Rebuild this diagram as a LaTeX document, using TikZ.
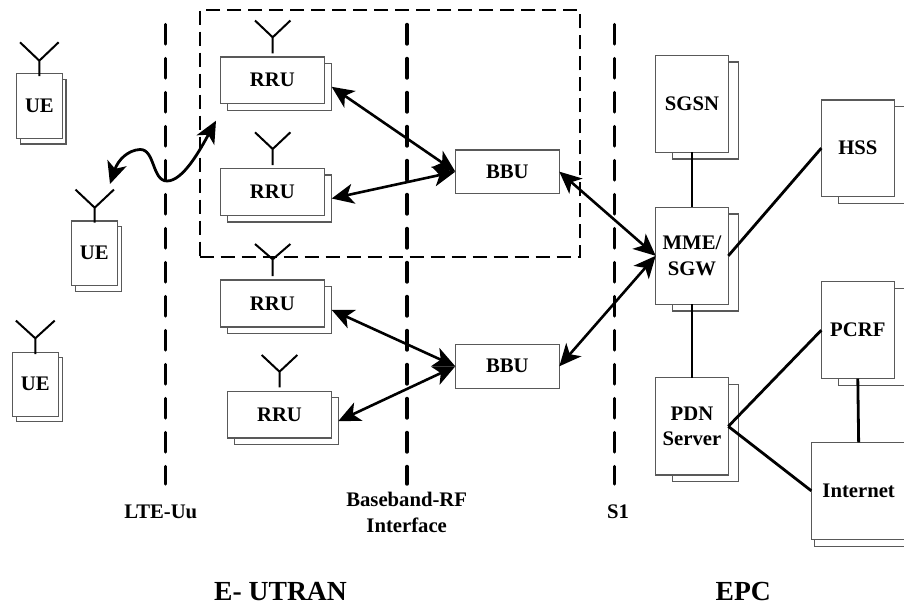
\documentclass[tikz,border=0pt]{standalone}
\usepackage{fontspec}
\setmainfont{Liberation Serif}
\usetikzlibrary{fit,arrows.meta,calc}
\definecolor{boxline}{gray}{0.35}
\tikzset{
  lbl/.style={font=\fontsize{20.7}{25.6}\selectfont\bfseries,align=center,inner sep=0pt,outer sep=0pt},
  bigl/.style={font=\fontsize{27.6}{30}\selectfont\bfseries,inner sep=0pt,outer sep=0pt},
  frontbox/.style={inner sep=0pt,outer sep=0pt,draw=boxline,fill=white,line width=1.1pt},
  backbox/.style={inner sep=0pt,outer sep=0pt,draw=boxline,fill=white,line width=1.1pt},
  ant/.style={line width=2pt,black},
  border/.style={line width=3.4pt,line cap=round,dash pattern=on 19.5pt off 14.5pt},
  region/.style={line width=2pt,dash pattern=on 14.5pt off 6.5pt},
  tips/.style={{Stealth[length=22pt,width=20pt,inset=6pt]}-{Stealth[length=22pt,width=20pt,inset=6pt]}},
  dbl/.style={line width=2.6pt,tips},
  link/.style={line width=2.8pt},
}
\newcommand{\stk}[6]{%
  \node[backbox,fit={(#4)(#5)}] (#1b) {};
  \node[frontbox,fit={(#2)(#3)}] (#1) {};
  \node[lbl] (#1t) at (#1.center) {#6};
}
% name, stem x, stem bottom, joint y, arm top y, half spread
\newcommand{\antenna}[6]{%
  \coordinate (#1s) at (#2,#3);
  \coordinate (#1j) at (#2,#4);
  \coordinate (#1l) at ($(#2,#5)+(-#6,0)$);
  \coordinate (#1r) at ($(#2,#5)+(#6,0)$);
  \draw[ant] (#1s) -- (#1j) (#1l) -- (#1j) -- (#1r);
}
\begin{document}
\begin{tikzpicture}[x=1pt,y=-1pt]
\clip (0,0) rectangle (904,606);

% region box and interface lines
\node[draw,region,inner sep=0pt,outer sep=0pt,fit={(199.7,10)(579.7,257.3)}] (enb) {};
\coordinate (uut) at (165.3,24.5);  \coordinate (uub) at (165.3,484);
\coordinate (brt) at (407,24.5);    \coordinate (brb) at (407,484);
\coordinate (sot) at (614.3,24.5);  \coordinate (sob) at (614.3,484);
\draw[border] (uut) -- (uub);
\draw[border] (brt) -- (brb);
\draw[border] (sot) -- (sob);

% UEs
\stk{ue1}{16.4,73.4}{62.4,138.3}{20.2,79.3}{66,144}{UE}
\stk{ue2}{71.3,221}{117.3,285.3}{75.3,226.5}{121.5,291.3}{UE}
\stk{ue3}{12.3,352.3}{58.3,416.3}{16.3,357.3}{62.3,421.7}{UE}
\antenna{a1}{39.3}{76}{60.7}{42.3}{19.3}
\antenna{a2}{94.7}{222.7}{207.7}{189.6}{19.2}
\antenna{a3}{35.3}{354}{338.3}{320.6}{19.4}

% RRUs
\stk{rru1}{220.3,57}{324.3,103.3}{227.3,63.3}{331.7,110.3}{RRU}
\stk{rru2}{220.3,168.3}{324.3,215.3}{227.3,175}{331.7,222}{RRU}
\stk{rru3}{220.3,280}{324.3,327}{227.3,286.5}{331.7,333.3}{RRU}
\stk{rru4}{227.3,391.3}{331.7,438}{234.3,397.5}{338.3,444.7}{RRU}
\antenna{r1}{272.7}{53.3}{37.3}{20.5}{17.7}
\antenna{r2}{272.7}{165}{149}{132.3}{17.7}
\antenna{r3}{272.7}{276}{259.3}{244}{17.7}
\antenna{r4}{279.5}{387.3}{371.7}{355}{17.8}

% BBUs
\node[frontbox,fit={(455.3,150)(559.3,193.3)}] (bbu1) {};
\node[lbl] (bbu1t) at (bbu1.center) {BBU};
\node[frontbox,fit={(455.3,344.3)(559.3,388.3)}] (bbu2) {};
\node[lbl] (bbu2t) at (bbu2.center) {BBU};

% EPC
\stk{sgsn}{655.7,55.3}{728.3,152.3}{672.7,62}{738.3,159}{SGSN}
\stk{mme}{655.7,207.3}{728.3,304.3}{672.7,214}{738.3,311}{MME/\\SGW}
\stk{pdn}{655.7,377.7}{728.3,475}{672.7,384.3}{738.3,481.3}{PDN\\Server}
\stk{hss}{821.3,100}{894.3,196.3}{838.7,106.7}{905,203.3}{HSS}
\stk{pcrf}{821.3,281.7}{894.3,378.7}{838.7,288.3}{905,385.3}{PCRF}
\stk{inet}{811.3,442.3}{906,539.3}{814.7,449}{910,546.7}{Internet}

% connectors
\draw[dbl] (rru1b.east) -- (bbu1.west);
\draw[dbl] (rru2b.east) -- (bbu1.west);
\draw[dbl] (rru3b.east) -- (bbu2.west);
\draw[dbl] (rru4b.east) -- (bbu2.west);
\draw[dbl] (bbu1.east) -- (mme.west);
\draw[dbl] (bbu2.east) -- (mme.west);
\draw[link] (sgsn.south) -- (mme.north);
\draw[link] (mme.south) -- (pdn.north);
\draw[link] (mme.east) -- (hss.west);
\draw[link] (pdn.east) -- (pcrf.west);
\draw[link] (pdn.east) -- (inet.west);
\draw[link] (pcrf.south) -- (inet.north);

% radio link
\coordinate (airue) at (110,184);
\coordinate (airrru) at (216,120.7);
\draw[line width=2.8pt,tips]
  (airue) .. controls (118,160) and (128,150) .. (140,149.5)
  .. controls (155,149) and (152,181) .. (167,181)
  .. controls (183,181) and (200,150) .. (airrru);

% labels
\node[lbl,anchor=base] (lte) at (160.8,518.3) {LTE-Uu};
\node[lbl] (bri) at (406.7,512.6) {Baseband-RF\\Interface};
\node[lbl,anchor=base] (s1) at (618,518.3) {S1};
\node[bigl,anchor=base] (eutran) at (280.5,600) {E- UTRAN};
\node[bigl,anchor=base] (epc) at (743.3,600) {EPC};
\end{tikzpicture}
\end{document}
